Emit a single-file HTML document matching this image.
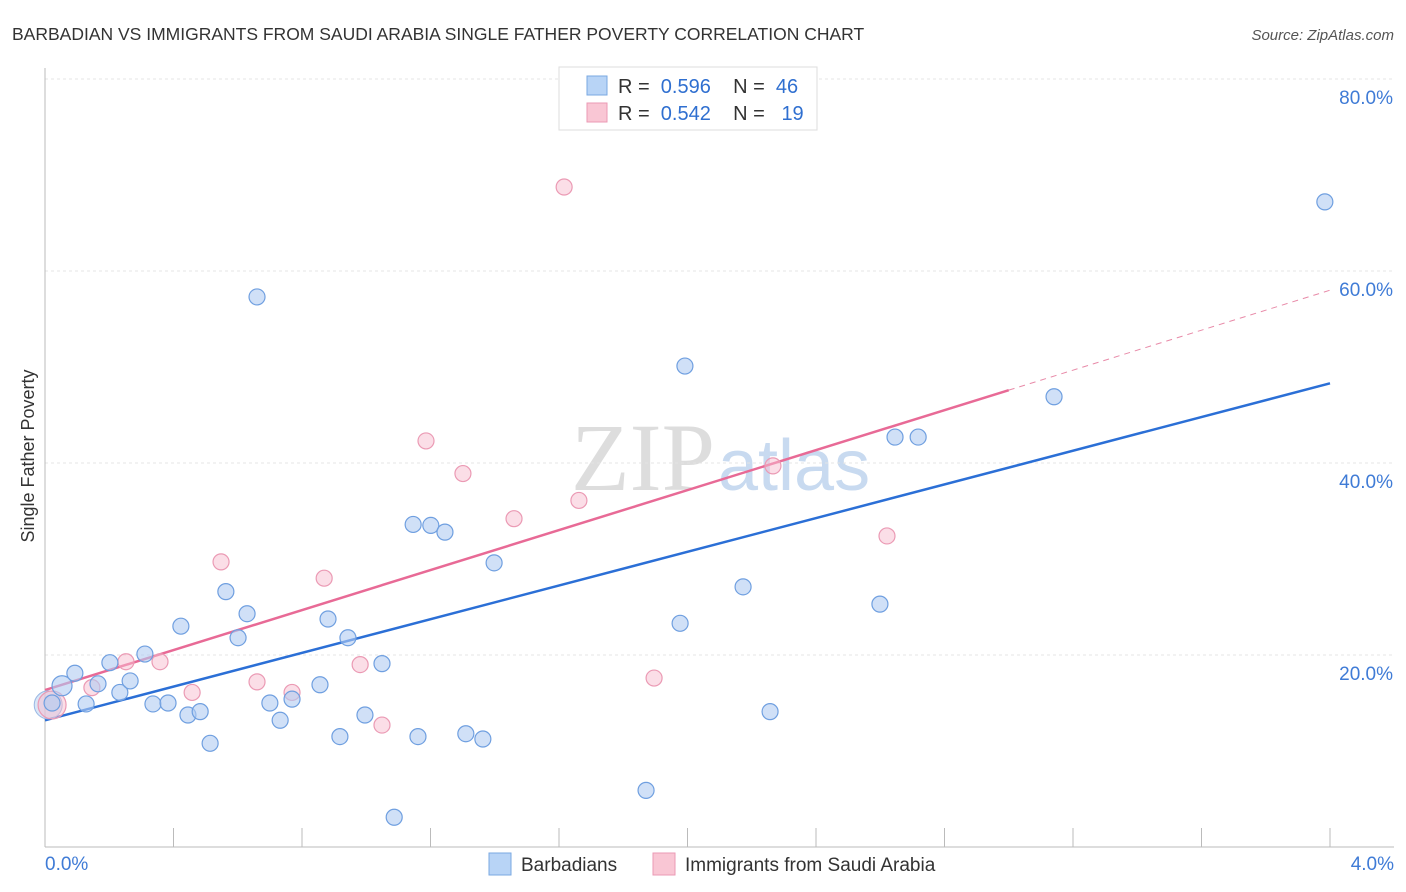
<!DOCTYPE html>
<html><head><meta charset="utf-8"><style>
body{margin:0;background:#fff;font-family:"Liberation Sans",sans-serif}
svg{display:block}
</style></head><body>
<svg id="c" width="1406" height="892" xmlns="http://www.w3.org/2000/svg">
<text x="12" y="40" font-size="17.5" fill="#333">BARBADIAN VS IMMIGRANTS FROM SAUDI ARABIA SINGLE FATHER POVERTY CORRELATION CHART</text>
<text x="1394" y="40" font-size="15" fill="#555" font-style="italic" text-anchor="end">Source: ZipAtlas.com</text>
<text x="34" y="456" font-size="18" fill="#333" text-anchor="middle" transform="rotate(-90 34 456)">Single Father Poverty</text>
<text x="715" y="490" font-size="96" fill="#ddd" text-anchor="end" font-family="Liberation Serif">ZIP</text>
<text x="718" y="490" font-size="72" fill="#c8daf0">atlas</text>
<g id="grid"></g><g id="trend"></g><g id="pts"></g>
<g>
<rect x="559" y="67" width="258" height="63" fill="#fff" stroke="#ddd"/>
<rect x="587" y="76" width="20" height="19" fill="#b8d4f6" stroke="#7aa8e2"/>
<rect x="587" y="103" width="20" height="19" fill="#f9c6d4" stroke="#eb9ab4"/>
<text x="618" y="93" font-size="20" fill="#333" xml:space="preserve">R =  <tspan fill="#2f6fd0">0.596</tspan>    N =  <tspan fill="#2f6fd0">46</tspan></text>
<text x="618" y="120" font-size="20" fill="#333" xml:space="preserve">R =  <tspan fill="#2f6fd0">0.542</tspan>    N =   <tspan fill="#2f6fd0">19</tspan></text>
</g>
<g>
<rect x="489" y="853" width="22" height="22" fill="#b8d4f6" stroke="#7aa8e2"/>
<text x="521" y="871" font-size="19" fill="#333">Barbadians</text>
<rect x="653" y="853" width="22" height="22" fill="#f9c6d4" stroke="#eb9ab4"/>
<text x="685" y="871" font-size="19" fill="#333">Immigrants from Saudi Arabia</text>
</g>
</svg>
<script>
const blueX=[0.022,0.053,0.093,0.128,0.165,0.202,0.233,0.265,0.311,0.336,0.383,0.423,0.445,0.483,0.514,0.563,0.601,0.629,0.660,0.700,0.732,0.769,0.856,0.881,0.918,0.943,0.996,1.049,1.087,1.146,1.161,1.201,1.245,1.310,1.363,1.398,1.871,1.977,1.992,2.173,2.257,2.599,2.646,2.718,3.141,3.984];
const blueY=[15.0,16.8,18.1,14.9,17.0,19.2,16.1,17.3,20.1,14.9,15.0,23.0,13.75,14.1,10.8,26.6,21.8,24.3,57.3,15.0,13.2,15.4,16.9,23.75,11.5,21.8,13.75,19.1,3.1,33.6,11.5,33.5,32.8,11.8,11.25,29.6,5.9,23.3,50.1,27.1,14.1,25.3,42.7,42.7,46.9,67.2];
const pinkX=[0.022,0.146,0.252,0.358,0.458,0.548,0.660,0.769,0.869,0.981,1.049,1.186,1.301,1.460,1.616,1.662,1.896,2.266,2.621];
const pinkY=[14.8,16.6,19.3,19.3,16.1,29.7,17.2,16.1,28.0,19.0,12.7,42.3,38.9,34.2,68.75,36.1,17.6,39.7,32.4];
const xTicks=[0,0.4,0.8,1.2,1.6,2.0,2.4,2.8,3.2,3.6,4.0];
const yTicks=[20,40,60,80];
const blueTrend=[13.2,48.3];
const pinkTrend=[16.35,58.0];
const pinkSolidEnd=3.0;
const NS="http://www.w3.org/2000/svg";
const sx=v=>45+v/4*1285, sy=v=>847-v*9.6;
function mk(p,t,a){const e=document.createElementNS(NS,t);for(const k in a)e.setAttribute(k,a[k]);p.appendChild(e);return e;}
const g=document.getElementById('grid');
yTicks.forEach(t=>{const l=mk(g,'line',{x1:45,x2:1394,y1:sy(t),y2:sy(t),stroke:'#e4e4e4','stroke-dasharray':'3,3'});


const tx=mk(g,'text',{x:1393,y:sy(t)+25,'font-size':19,fill:'#3f7bd6','text-anchor':'end'});tx.textContent=t.toFixed(1)+'%';

});
mk(g,'line',{x1:45,x2:45,y1:68,y2:847,stroke:'#bbb'});
mk(g,'line',{x1:45,x2:1394,y1:847,y2:847,stroke:'#bbb'});
xTicks.forEach(t=>{const l=mk(g,'line',{x1:sx(t),x2:sx(t),y1:828,y2:847,stroke:'#bbb'});

});
[[0,'start',45],[4,'end',1394]].forEach(([v,a,x])=>{const tx=mk(g,'text',{x:x,y:870,'font-size':19,fill:'#3f7bd6','text-anchor':a});tx.textContent=v.toFixed(1)+'%';

});
const tr=document.getElementById('trend');
const py=x=>pinkTrend[0]+(pinkTrend[1]-pinkTrend[0])*x/4;
let l1=mk(tr,'line',{x1:sx(0),y1:sy(blueTrend[0]),x2:sx(4),y2:sy(blueTrend[1]),stroke:'#2b6fd6','stroke-width':2.5});


let l2=mk(tr,'line',{x1:sx(0),y1:sy(py(0)),x2:sx(pinkSolidEnd),y2:sy(py(pinkSolidEnd)),stroke:'#e86a96','stroke-width':2.5});


let l3=mk(tr,'line',{x1:sx(pinkSolidEnd),y1:sy(py(pinkSolidEnd)),x2:sx(4),y2:sy(py(4)),stroke:'#e88aa8','stroke-width':1,'stroke-dasharray':'6,5'});


const pg=document.getElementById('pts');
let big=mk(pg,'circle',{cx:sx(0.01),cy:sy(14.8),r:14,fill:'rgba(180,205,240,0.5)',stroke:'#9ab8e4'});


pinkX.forEach((x,i)=>{const c=mk(pg,'circle',{cx:sx(x),cy:sy(pinkY[i]),r:i==0?14:8,fill:'rgba(248,190,208,0.5)',stroke:'#eb9ab4','stroke-width':1.2});

});
blueX.forEach((x,i)=>{const c=mk(pg,'circle',{cx:sx(x),cy:sy(blueY[i]),r:i==1?10:8,fill:'rgba(176,204,242,0.6)',stroke:'#6f9fe0','stroke-width':1.2});

});
</script>
</body></html>
